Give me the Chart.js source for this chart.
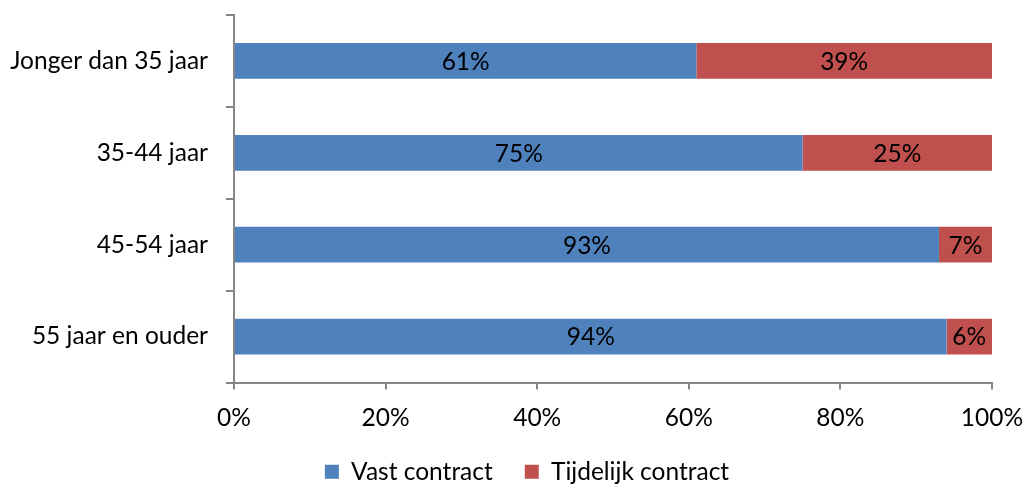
<!DOCTYPE html>
<html>
<head>
<meta charset="utf-8">
<script src="https://cdn.jsdelivr.net/npm/chart.js@4"></script>
<style>
html,body{margin:0;padding:0;background:#fff;overflow:hidden;}
#wrap{width:1025px;height:484px;}
</style>
</head>
<body>
<div id="wrap"><canvas id="c" width="1025" height="484"></canvas></div>
<script>
const categories = ["Jonger dan 35 jaar", "35-44 jaar", "45-54 jaar", "55 jaar en ouder"];
const vastContract = [61, 75, 93, 94];
const tijdelijkContract = [39, 25, 7, 6];
const seriesNames = ["Vast contract", "Tijdelijk contract"];
const xTicks = [0, 20, 40, 60, 80, 100];

const FONT = "Lato";
const FS = 24.5;

const labelPlugin = {
  id: 'barLabels',
  beforeDraw(chart) {
    const lg = chart.legend;
    if (lg && !lg._shifted) { lg.left += 31; lg.right += 31; lg._shifted = true; }
  },
  afterDatasetsDraw(chart) {
    const ctx = chart.ctx;
    ctx.save();
    ctx.font = FS + "px " + FONT;
    ctx.fillStyle = "#000";
    ctx.textAlign = "center";
    ctx.textBaseline = "middle";
    chart.data.datasets.forEach((ds, di) => {
      const meta = chart.getDatasetMeta(di);
      meta.data.forEach((el, i) => {
        const p = el.getProps(['x', 'y', 'base'], true);
        const cx = (p.x + p.base) / 2;
        ctx.fillText(ds.data[i] + "%", cx, p.y + 1);
      });
    });
    ctx.restore();
  }
};

function zeroPad(s) { s.paddingLeft = 0; s.paddingRight = 0; s.paddingTop = 0; s.paddingBottom = 0; }

new Chart(document.getElementById('c'), {
  type: 'bar',
  data: {
    labels: categories,
    datasets: [
      { label: seriesNames[0], data: vastContract, backgroundColor: '#4F81BD', barPercentage: 0.39, categoryPercentage: 1 },
      { label: seriesNames[1], data: tijdelijkContract, backgroundColor: '#C0504D', barPercentage: 0.39, categoryPercentage: 1 }
    ]
  },
  options: {
    indexAxis: 'y',
    responsive: false,
    animation: false,
    devicePixelRatio: 1,
    layout: { padding: { top: 15, right: 33, left: 0, bottom: -10 } },
    plugins: {
      legend: {
        position: 'bottom',
        labels: { font: { family: FONT, size: FS }, color: '#000', boxWidth: 14, boxHeight: 14, padding: 32 }
      },
      tooltip: { enabled: false }
    },
    scales: {
      x: {
        stacked: true,
        min: 0, max: 100,
        afterBuildTicks(s) { s.ticks = xTicks.map(v => ({ value: v })); },
        afterFit(s) { s.height = 45; zeroPad(s); },
        ticks: { callback: v => v + '%', font: { family: FONT, size: FS }, color: '#000', padding: 14, maxRotation: 0 },
        grid: { drawOnChartArea: false, tickLength: 7, color: '#868686', lineWidth: 2 },
        border: { color: '#868686', width: 2 }
      },
      y: {
        stacked: true,
        afterFit(s) { s.width = 234; zeroPad(s); },
        ticks: { font: { family: FONT, size: FS }, color: '#000', padding: 18 },
        grid: { offset: true, drawOnChartArea: false, tickLength: 8, color: '#868686', lineWidth: 2 },
        border: { color: '#868686', width: 2 }
      }
    }
  },
  plugins: [labelPlugin]
});
</script>
</body>
</html>
